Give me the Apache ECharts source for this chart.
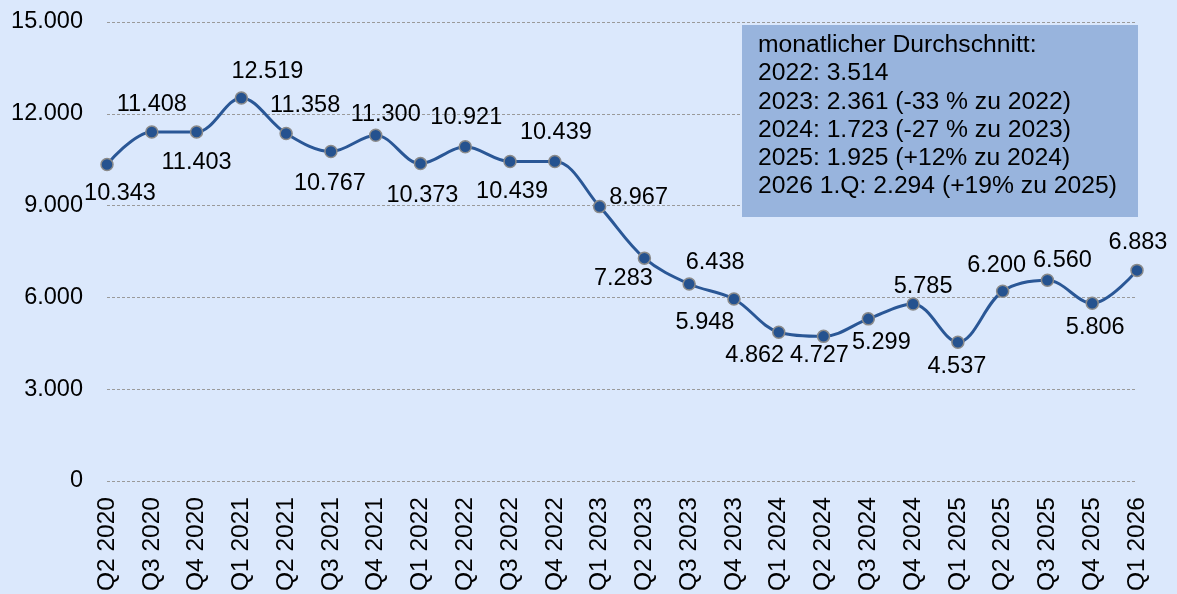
<!DOCTYPE html>
<html>
<head>
<meta charset="utf-8">
<script src="https://cdn.jsdelivr.net/npm/echarts@6/dist/echarts.min.js"></script>
<style>
html,body{margin:0;padding:0;background:#dbe8fc;}
#chart{width:1177px;height:594px;}
</style>
</head>
<body>
<div id="chart"></div>
<script>
const categories = ['Q2 2020','Q3 2020','Q4 2020','Q1 2021','Q2 2021','Q3 2021','Q4 2021','Q1 2022','Q2 2022','Q3 2022','Q4 2022','Q1 2023','Q2 2023','Q3 2023','Q4 2023','Q1 2024','Q2 2024','Q3 2024','Q4 2024','Q1 2025','Q2 2025','Q3 2025','Q4 2025','Q1 2026'];
const values = [10343,11408,11403,12519,11358,10767,11300,10373,10921,10439,10439,8967,7283,6438,5948,4862,4727,5299,5785,4537,6200,6560,5806,6883];
const yTicks = {min:0, max:15000, interval:3000};
const noteLines = [
  'monatlicher Durchschnitt:',
  '2022: 3.514',
  '2023: 2.361 (-33 % zu 2022)',
  '2024: 1.723 (-27 % zu 2023)',
  '2025: 1.925 (+12% zu 2024)',
  '2026 1.Q: 2.294 (+19% zu 2025)'
];
// label placement (style only): offset of label centre from the point
const labelOffsets = [
  [13,29],[0,-27],[0,30],[26,-26],[19,-28],[-1,32],[10,-21],[2,32],
  [1,-29],[2,30],[1,-29],[39,-9],[-21,20],[26,-21],[-29,24],[-24,23],
  [-4,19],[13,24],[10,-17],[-1,24],[-6,-26],[15,-20],[3,24],[1,-28]
];

const fmt = v => String(v).replace(/\B(?=(\d{3})+(?!\d))/g, '.');
const FONT = '"Liberation Sans", Arial, sans-serif';

const chart = echarts.init(document.getElementById('chart'), null, {renderer:'canvas'});
chart.setOption({
  backgroundColor: '#dbe8fc',
  animation: false,
  grid: {left:107, right:40, top:22, bottom:112, containLabel:false},
  xAxis: {
    type: 'category',
    data: categories,
    boundaryGap: false,
    axisLine: {show:false},
    axisTick: {show:false},
    axisLabel: {rotate:90, interval:0, margin:16, fontSize:24.5, color:'#000', fontFamily:FONT}
  },
  yAxis: {
    type: 'value',
    min: yTicks.min, max: yTicks.max, interval: yTicks.interval,
    axisLine: {show:false},
    axisTick: {show:false},
    axisLabel: {margin:24, fontSize:23.5, color:'#000', fontFamily:FONT, formatter: v => fmt(v)},
    splitLine: {show:true, lineStyle:{color:'#9a9a9a', width:1, type:[3,2]}}
  },
  series: [{
    type: 'line',
    data: values.map((v,i) => ({
      value: v,
      label: {offset: labelOffsets[i]}
    })),
    smooth: 0.35,
    symbol: 'circle',
    symbolSize: 12,
    lineStyle: {color:'#2a5796', width:3},
    itemStyle: {color:'#25528f', borderColor:'#8a8a8a', borderWidth:1.5},
    label: {
      show: true,
      position: 'inside',
      align: 'center',
      verticalAlign: 'middle',
      fontSize: 23.5,
      color: '#000',
      fontFamily: FONT,
      formatter: p => fmt(p.value)
    },
    z: 5
  }],
  graphic: [
    {type:'rect', left:742, top:25, shape:{width:396, height:192}, style:{fill:'#98b4dd'}, z:10},
    {type:'text', left:758, top:31, style:{text: noteLines.join('\n'), font:'24.7px ' + FONT, lineHeight:28.3, fill:'#000'}, z:11}
  ]
});
</script>
</body>
</html>
